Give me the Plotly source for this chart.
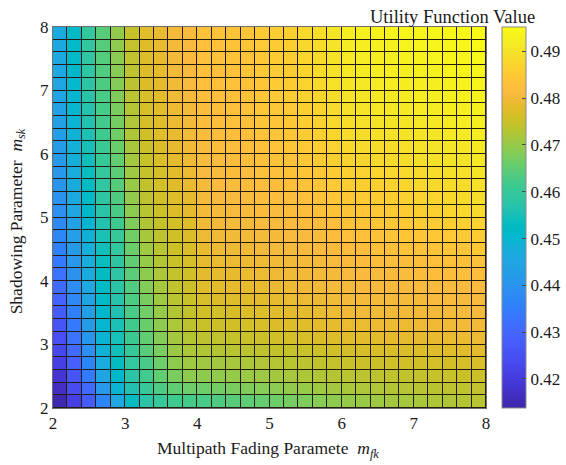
import plotly.graph_objects as go

# Grid edges of the two parameters (cell boundaries)
m_fk = [2.0, 2.2, 2.4, 2.6, 2.8, 3.0, 3.2, 3.4, 3.6, 3.8, 4.0, 4.2, 4.4, 4.6, 4.8, 5.0,
        5.2, 5.4, 5.6, 5.8, 6.0, 6.2, 6.4, 6.6, 6.8, 7.0, 7.2, 7.4, 7.6, 7.8, 8.0]
m_sk = [2.0, 2.2, 2.4, 2.6, 2.8, 3.0, 3.2, 3.4, 3.6, 3.8, 4.0, 4.2, 4.4, 4.6, 4.8, 5.0,
        5.2, 5.4, 5.6, 5.8, 6.0, 6.2, 6.4, 6.6, 6.8, 7.0, 7.2, 7.4, 7.6, 7.8, 8.0]

# Utility function value per cell; rows from m_sk = 2 (bottom) to 8 (top)
utility = [
    [.4146,.4211,.4276,.4366,.4455,.4529,.4578,.4602,.4614,.4622,.4626,.4633,.4641,.4648,.4655,.4663,.4670,.4677,.4685,.4692,.4700,.4704,.4707,.4711,.4714,.4718,.4721,.4725,.4728,.4732],
    [.4166,.4236,.4309,.4415,.4496,.4561,.4602,.4630,.4651,.4663,.4663,.4668,.4674,.4679,.4685,.4690,.4696,.4701,.4707,.4712,.4718,.4721,.4723,.4726,.4729,.4731,.4734,.4737,.4739,.4742],
    [.4187,.4260,.4342,.4447,.4512,.4578,.4618,.4651,.4675,.4692,.4692,.4696,.4700,.4704,.4708,.4712,.4716,.4720,.4724,.4728,.4732,.4734,.4737,.4739,.4741,.4744,.4746,.4748,.4751,.4753],
    [.4211,.4285,.4366,.4472,.4529,.4594,.4626,.4663,.4692,.4708,.4708,.4712,.4716,.4720,.4724,.4728,.4732,.4736,.4740,.4744,.4749,.4751,.4753,.4755,.4757,.4758,.4760,.4762,.4764,.4766],
    [.4228,.4309,.4390,.4488,.4545,.4602,.4643,.4675,.4704,.4720,.4724,.4728,.4732,.4735,.4739,.4743,.4747,.4750,.4754,.4758,.4762,.4764,.4766,.4768,.4770,.4773,.4775,.4777,.4779,.4781],
    [.4244,.4325,.4407,.4496,.4549,.4610,.4651,.4683,.4712,.4728,.4736,.4740,.4744,.4748,.4752,.4757,.4761,.4765,.4769,.4773,.4777,.4779,.4780,.4782,.4784,.4785,.4787,.4789,.4790,.4792],
    [.4260,.4342,.4423,.4504,.4553,.4618,.4659,.4692,.4720,.4736,.4749,.4753,.4757,.4761,.4765,.4769,.4773,.4777,.4781,.4785,.4789,.4790,.4792,.4793,.4794,.4796,.4797,.4798,.4800,.4801],
    [.4276,.4358,.4435,.4512,.4561,.4626,.4667,.4700,.4726,.4742,.4757,.4761,.4765,.4769,.4773,.4777,.4781,.4785,.4789,.4793,.4797,.4798,.4799,.4800,.4801,.4801,.4802,.4803,.4804,.4805],
    [.4293,.4374,.4447,.4521,.4569,.4630,.4675,.4708,.4732,.4749,.4765,.4769,.4773,.4776,.4780,.4784,.4788,.4791,.4795,.4799,.4803,.4804,.4805,.4805,.4806,.4807,.4808,.4808,.4809,.4810],
    [.4309,.4386,.4455,.4525,.4578,.4635,.4683,.4714,.4739,.4753,.4777,.4780,.4783,.4786,.4789,.4791,.4794,.4797,.4800,.4803,.4807,.4808,.4809,.4809,.4810,.4811,.4812,.4812,.4813,.4814],
    [.4325,.4398,.4464,.4529,.4582,.4643,.4692,.4720,.4744,.4757,.4781,.4784,.4787,.4790,.4793,.4795,.4798,.4801,.4804,.4807,.4810,.4811,.4813,.4814,.4815,.4817,.4818,.4819,.4821,.4822],
    [.4342,.4411,.4472,.4537,.4586,.4651,.4700,.4726,.4749,.4761,.4785,.4788,.4791,.4793,.4796,.4799,.4802,.4804,.4807,.4810,.4814,.4816,.4818,.4819,.4821,.4823,.4825,.4826,.4828,.4830],
    [.4358,.4423,.4480,.4545,.4594,.4659,.4708,.4732,.4753,.4765,.4789,.4792,.4795,.4797,.4800,.4803,.4806,.4808,.4811,.4814,.4820,.4823,.4826,.4829,.4832,.4834,.4837,.4840,.4843,.4846],
    [.4370,.4431,.4488,.4553,.4602,.4667,.4716,.4739,.4757,.4769,.4793,.4796,.4799,.4801,.4804,.4807,.4810,.4812,.4815,.4818,.4828,.4831,.4834,.4837,.4840,.4842,.4845,.4848,.4851,.4854],
    [.4382,.4439,.4500,.4565,.4614,.4679,.4724,.4744,.4761,.4773,.4797,.4800,.4803,.4806,.4809,.4811,.4814,.4817,.4820,.4823,.4834,.4838,.4841,.4845,.4849,.4852,.4856,.4860,.4863,.4867],
    [.4390,.4455,.4512,.4578,.4626,.4692,.4732,.4753,.4769,.4781,.4801,.4805,.4810,.4812,.4814,.4815,.4819,.4822,.4826,.4834,.4838,.4842,.4846,.4851,.4856,.4861,.4866,.4871,.4876,.4883],
    [.4398,.4462,.4521,.4585,.4633,.4697,.4737,.4757,.4773,.4784,.4804,.4808,.4813,.4815,.4818,.4820,.4824,.4828,.4833,.4842,.4847,.4851,.4855,.4860,.4865,.4869,.4874,.4879,.4883,.4890],
    [.4405,.4468,.4529,.4591,.4640,.4703,.4741,.4760,.4776,.4788,.4807,.4811,.4815,.4817,.4821,.4824,.4828,.4834,.4839,.4849,.4855,.4860,.4864,.4868,.4873,.4877,.4881,.4886,.4890,.4896],
    [.4412,.4475,.4537,.4597,.4647,.4708,.4745,.4764,.4780,.4791,.4810,.4813,.4817,.4820,.4825,.4828,.4832,.4839,.4845,.4856,.4863,.4868,.4872,.4876,.4880,.4884,.4888,.4893,.4897,.4902],
    [.4419,.4481,.4544,.4603,.4653,.4712,.4749,.4767,.4783,.4794,.4812,.4815,.4819,.4822,.4828,.4832,.4836,.4844,.4851,.4862,.4871,.4875,.4879,.4883,.4887,.4891,.4895,.4899,.4903,.4908],
    [.4425,.4486,.4551,.4609,.4659,.4717,.4753,.4770,.4786,.4797,.4815,.4818,.4821,.4824,.4831,.4835,.4839,.4849,.4857,.4868,.4878,.4883,.4887,.4890,.4894,.4898,.4901,.4905,.4909,.4914],
    [.4431,.4491,.4557,.4614,.4665,.4721,.4757,.4773,.4789,.4799,.4817,.4820,.4823,.4826,.4834,.4839,.4843,.4853,.4862,.4874,.4885,.4889,.4893,.4897,.4901,.4904,.4907,.4911,.4915,.4919],
    [.4436,.4496,.4563,.4619,.4670,.4725,.4760,.4776,.4792,.4802,.4819,.4822,.4825,.4828,.4837,.4842,.4846,.4858,.4867,.4880,.4891,.4896,.4900,.4903,.4907,.4910,.4913,.4917,.4920,.4924],
    [.4441,.4501,.4569,.4623,.4675,.4728,.4763,.4778,.4794,.4804,.4821,.4824,.4827,.4830,.4839,.4845,.4849,.4862,.4871,.4885,.4897,.4902,.4906,.4909,.4912,.4915,.4918,.4922,.4925,.4928],
    [.4446,.4505,.4574,.4627,.4679,.4731,.4766,.4780,.4796,.4806,.4823,.4825,.4828,.4832,.4841,.4848,.4852,.4865,.4875,.4889,.4902,.4907,.4911,.4914,.4917,.4920,.4923,.4926,.4929,.4932],
    [.4450,.4509,.4579,.4631,.4683,.4734,.4769,.4782,.4798,.4808,.4825,.4827,.4830,.4833,.4843,.4850,.4854,.4869,.4879,.4894,.4907,.4912,.4916,.4919,.4922,.4925,.4927,.4931,.4933,.4936],
    [.4454,.4512,.4583,.4635,.4687,.4737,.4771,.4784,.4800,.4810,.4826,.4828,.4831,.4835,.4845,.4852,.4856,.4872,.4883,.4898,.4912,.4917,.4921,.4923,.4926,.4929,.4931,.4935,.4937,.4940],
    [.4458,.4516,.4587,.4638,.4690,.4740,.4773,.4786,.4802,.4811,.4828,.4830,.4832,.4836,.4847,.4855,.4859,.4874,.4886,.4901,.4916,.4921,.4925,.4927,.4930,.4933,.4935,.4938,.4940,.4943],
    [.4461,.4518,.4591,.4641,.4693,.4742,.4775,.4788,.4804,.4813,.4829,.4831,.4833,.4837,.4849,.4856,.4860,.4877,.4889,.4904,.4920,.4925,.4929,.4931,.4934,.4936,.4938,.4941,.4943,.4946],
    [.4464,.4521,.4594,.4643,.4696,.4744,.4777,.4789,.4805,.4814,.4830,.4832,.4834,.4838,.4850,.4858,.4862,.4879,.4891,.4907,.4923,.4928,.4932,.4934,.4937,.4939,.4941,.4944,.4946,.4948],
]

color_min = 0.4138
color_max = 0.4952
cbar_ticks = [0.42, 0.43, 0.44, 0.45, 0.46, 0.47, 0.48, 0.49]
axis_ticks = [2, 3, 4, 5, 6, 7, 8]

parula = [
    (0.2422, 0.1504, 0.6603), (0.2504, 0.1650, 0.7076), (0.2578, 0.1818, 0.7511), (0.2647, 0.1978, 0.7952),
    (0.2706, 0.2147, 0.8364), (0.2751, 0.2342, 0.8710), (0.2783, 0.2559, 0.8991), (0.2803, 0.2782, 0.9221),
    (0.2813, 0.3006, 0.9414), (0.2810, 0.3228, 0.9579), (0.2795, 0.3447, 0.9717), (0.2760, 0.3667, 0.9829),
    (0.2699, 0.3892, 0.9906), (0.2602, 0.4123, 0.9952), (0.2440, 0.4358, 0.9988), (0.2206, 0.4603, 0.9973),
    (0.1963, 0.4847, 0.9892), (0.1834, 0.5074, 0.9798), (0.1786, 0.5289, 0.9682), (0.1764, 0.5499, 0.9520),
    (0.1687, 0.5703, 0.9359), (0.1540, 0.5902, 0.9218), (0.1460, 0.6091, 0.9079), (0.1380, 0.6276, 0.8973),
    (0.1248, 0.6459, 0.8883), (0.1113, 0.6635, 0.8763), (0.0952, 0.6798, 0.8598), (0.0689, 0.6948, 0.8394),
    (0.0297, 0.7082, 0.8163), (0.0036, 0.7203, 0.7917), (0.0067, 0.7312, 0.7660), (0.0433, 0.7411, 0.7394),
    (0.0964, 0.7500, 0.7120), (0.1408, 0.7584, 0.6842), (0.1717, 0.7670, 0.6554), (0.1938, 0.7758, 0.6251),
    (0.2161, 0.7843, 0.5923), (0.2470, 0.7918, 0.5567), (0.2906, 0.7973, 0.5188), (0.3406, 0.8008, 0.4789),
    (0.3909, 0.8029, 0.4354), (0.4456, 0.8024, 0.3909), (0.5044, 0.7993, 0.3480), (0.5616, 0.7942, 0.3045),
    (0.6174, 0.7876, 0.2612), (0.6720, 0.7793, 0.2227), (0.7242, 0.7698, 0.1910), (0.7738, 0.7598, 0.1646),
    (0.8203, 0.7498, 0.1535), (0.8634, 0.7406, 0.1596), (0.9035, 0.7330, 0.1774), (0.9393, 0.7288, 0.2100),
    (0.9728, 0.7298, 0.2394), (0.9956, 0.7434, 0.2371), (0.9970, 0.7659, 0.2199), (0.9952, 0.7893, 0.2028),
    (0.9892, 0.8136, 0.1885), (0.9786, 0.8386, 0.1766), (0.9676, 0.8639, 0.1643), (0.9610, 0.8890, 0.1537),
    (0.9597, 0.9135, 0.1423), (0.9628, 0.9373, 0.1265), (0.9691, 0.9606, 0.1064), (0.9769, 0.9839, 0.0805),
]
n = len(parula)
colorscale = [[i / (n - 1), "rgb(%d,%d,%d)" % (round(r * 255), round(g * 255), round(b * 255))]
              for i, (r, g, b) in enumerate(parula)]

FONT = "Liberation Serif"
TXT = "#1a1a1a"
TICK_SIZE = 17
LABEL_SIZE = 17.5

fig = go.Figure(go.Heatmap(
    x=m_fk, y=m_sk, z=utility,
    colorscale=colorscale, zmin=color_min, zmax=color_max,
    xgap=1, ygap=1,
    colorbar=dict(
        thickness=24, thicknessmode="pixels", len=1, lenmode="fraction",
        x=1.037, xanchor="left", y=0.5, yanchor="middle", ypad=0, xpad=0,
        outlinewidth=1, outlinecolor="#8a8a8a",
        ticks="inside", ticklen=4, tickcolor="#444",
        tickvals=cbar_ticks, tickformat=".2f",
        tickfont=dict(family=FONT, size=TICK_SIZE, color=TXT),
    ),
    hoverinfo="skip",
))

fig.update_layout(
    width=566, height=465,
    margin=dict(l=53, r=80, t=27, b=57, autoexpand=False),
    paper_bgcolor="white", plot_bgcolor="#221c12",
    font=dict(family=FONT, size=16, color=TXT),
    annotations=[
        dict(text="Utility Function Value", xref="paper", yref="paper",
             x=1.118, y=1.027, xanchor="right", yanchor="middle", showarrow=False,
             font=dict(family=FONT, size=18.5, color=TXT)),
        dict(text="Multipath Fading Paramete&nbsp;&nbsp;<i>m</i><sub><i>fk</i></sub>",
             xref="paper", yref="paper", x=0.497, y=-0.108,
             xanchor="center", yanchor="middle", showarrow=False,
             font=dict(family=FONT, size=LABEL_SIZE, color=TXT)),
        dict(text="Shadowing Parameter&nbsp;&nbsp;<i>m</i><sub><i>sk</i></sub>",
             xref="paper", yref="paper", x=-0.083, y=0.49, textangle=-90,
             xanchor="center", yanchor="middle", showarrow=False,
             font=dict(family=FONT, size=LABEL_SIZE, color=TXT)),
    ],
)
fig.update_xaxes(
    range=[2, 8], tickvals=axis_ticks, showgrid=False, zeroline=False,
    showline=True, linecolor="#6e6e6e", linewidth=1, mirror=True,
    ticks="", ticklabelstandoff=0, automargin=False,
    tickfont=dict(family=FONT, size=TICK_SIZE, color=TXT),
)
fig.update_yaxes(
    range=[2, 8], tickvals=axis_ticks, showgrid=False, zeroline=False,
    showline=True, linecolor="#6e6e6e", linewidth=1, mirror=True,
    ticks="", ticklabelstandoff=0, automargin=False,
    tickfont=dict(family=FONT, size=TICK_SIZE, color=TXT),
)

fig.write_html("out.html", config={"displayModeBar": False},
               post_script="document.body.style.margin='0';")
